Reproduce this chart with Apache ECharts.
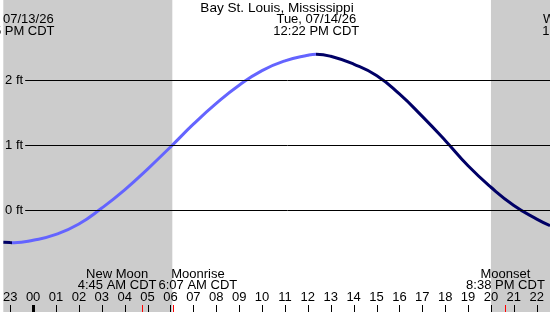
<!DOCTYPE html>
<html><head><meta charset="utf-8">
<script src="https://cdn.jsdelivr.net/npm/echarts@6/dist/echarts.min.js"></script>
<style>html,body{margin:0;padding:0;background:#fff}#c{width:550px;height:312px}</style>
</head><body><div id="c"></div>
<script>
// Tide heights (ft) by hour since midnight 07/14/26 (negative = 07/13)
const tideHours   = [-1.3, -1, -0.83, 0, 1, 2, 3, 4, 5, 6, 7, 8, 9, 10, 11, 12, 12.37, 13, 14, 15, 16, 17, 18, 19, 20, 21, 22, 22.58];
const tideHeights = [-0.497, -0.501, -0.503, -0.465, -0.375, -0.215, 0.03, 0.31, 0.63, 0.97, 1.32, 1.64, 1.92, 2.145, 2.295, 2.38, 2.395, 2.365, 2.245, 2.07, 1.785, 1.44, 1.07, 0.68, 0.35, 0.07, -0.14, -0.24];

const tickHours  = [-1,0,1,2,3,4,5,6,7,8,9,10,11,12,13,14,15,16,17,18,19,20,21,22];
const tickLabels = ['23','00','01','02','03','04','05','06','07','08','09','10','11','12','13','14','15','16','17','18','19','20','21','22'];
const midnightTicks = [0];

const levelValues = [0, 1, 2];
const levelLabels = ['0 ft', '1 ft', '2 ft'];

const sunrise = 6.08, sunset = 20.0;
const xMin = -1.3026, xMax = 22.579;
const yMin = -1.5692, yMax = 3.2308;
const levelLineStart = -0.347;

const extremeHours = [-0.92, 12.37, 24.12];
const extremeDates = ['Mon, 07/13/26', 'Tue, 07/14/26', 'Wed, 07/15/26'];
const extremeTimes = ['11:05 PM CDT', '12:22 PM CDT', '12:07 AM CDT'];

const moonHours = [4.75, 6.117, 20.633];
const moonNames = ['New Moon', 'Moonrise', 'Moonset'];
const moonTimes = ['4:45 AM CDT', '6:07 AM CDT', '8:38 PM CDT'];

const title = 'Bay St. Louis, Mississippi';

const FONT = '13px "Liberation Sans", Arial, sans-serif';
const TITLE_FONT = '13.6px "Liberation Sans", Arial, sans-serif';
const DARK = '#000066', LIGHT = '#6464ff', NIGHT = '#cccccc';

const chart = echarts.init(document.getElementById('c'), null, {renderer: 'canvas'});
const tideData = tideHours.map((h, i) => [h, tideHeights[i]]);

function tickSeries(values, color, width) {
  return {
    type: 'custom', z: 10, silent: true,
    data: values.map(v => [v]),
    encode: {x: 0},
    renderItem: function (params, api) {
      const p = api.coord([api.value(0), yMin]);
      const x = Math.round(p[0]) + (width % 2 ? 0.5 : 0);
      return {type: 'line', shape: {x1: x, y1: p[1], x2: x, y2: p[1] - 7},
        style: {stroke: color, lineWidth: width}};
    }
  };
}

chart.setOption({
  animation: false,
  backgroundColor: '#ffffff',
  grid: {left: 0, right: 0, top: 0, bottom: 0, containLabel: false},
  xAxis: {
    type: 'value', min: xMin, max: xMax, position: 'bottom', z: 10,
    axisLine: {show: false, onZero: false}, splitLine: {show: false},
    axisTick: {show: false},
    axisLabel: {show: true, inside: true, margin: 8, customValues: tickHours, hideOverlap: false,
      color: '#000', fontSize: 13, fontFamily: '"Liberation Sans", Arial, sans-serif',
      formatter: v => tickLabels[tickHours.indexOf(Math.round(v))]}
  },
  yAxis: {type: 'value', min: yMin, max: yMax, show: false, splitLine: {show: false}},
  visualMap: {
    show: false, type: 'piecewise', dimension: 0, seriesIndex: 2,
    pieces: [
      {lt: extremeHours[0], color: DARK},
      {gte: extremeHours[0], lte: extremeHours[1], color: LIGHT},
      {gt: extremeHours[1], color: DARK}
    ]
  },
  series: [
    {
      type: 'line', z: 1, data: tideData, symbol: 'none', silent: true,
      lineStyle: {opacity: 0, width: 0},
      markArea: {silent: true, itemStyle: {color: NIGHT},
        data: [[{xAxis: xMin}, {xAxis: sunrise}], [{xAxis: sunset}, {xAxis: xMax}]]}
    },
    {
      type: 'line', z: 2, data: tideData, symbol: 'none', silent: true,
      lineStyle: {opacity: 0, width: 0},
      markLine: {silent: true, symbol: 'none', animation: false,
        lineStyle: {color: '#000', width: 1, type: 'solid'},
        label: {show: true, position: 'start', distance: 2, color: '#000',
          fontSize: 13, fontFamily: '"Liberation Sans", Arial, sans-serif'},
        data: levelValues.map((v, i) => [
          {coord: [levelLineStart, v], label: {formatter: levelLabels[i]}},
          {coord: [xMax, v]}
        ])}
    },
    {
      type: 'line', z: 3, data: tideData, symbol: 'none', smooth: 0.5,
      lineStyle: {width: 3}
    },
    tickSeries(tickHours, '#000', 1),
    tickSeries(midnightTicks, '#000', 3),
    tickSeries(moonHours, '#ff0000', 1)
  ]
});

function px(h) { return chart.convertToPixel({xAxisIndex: 0}, h); }

const ctx = document.createElement('canvas').getContext('2d');
ctx.font = FONT;
function w(t) { return ctx.measureText(t).width; }

const graphics = [];
function text(t, x, y, font) {
  graphics.push({type: 'text', z: 100, silent: true,
    style: {text: t, x: x, y: y, fill: '#000', font: font || FONT, align: 'center', verticalAlign: 'middle', textAlign: 'center', textVerticalAlign: 'middle'}});
}

text(title, 277, 8, TITLE_FONT);
extremeHours.forEach((h, i) => {
  const x = px(h);
  text(extremeDates[i], x, 19.5);
  text(extremeTimes[i], x, 31);
});

// moon labels with simple overlap resolution
const ml = moonHours.map((h, i) => ({x: px(h), w: Math.max(w(moonNames[i]), w(moonTimes[i])), i}));
for (let it = 0; it < 10; it++) {
  for (let k = 0; k < ml.length - 1; k++) {
    const a = ml[k], b = ml[k + 1];
    const need = (a.w + b.w) / 2 + 2;
    const gap = b.x - a.x;
    if (gap < need) { const d = (need - gap) / 2; a.x -= d; b.x += d; }
  }
}
ml.forEach(m => {
  text(moonNames[m.i], m.x, 274);
  text(moonTimes[m.i], m.x, 285);
});

chart.setOption({graphic: graphics});
</script></body></html>
